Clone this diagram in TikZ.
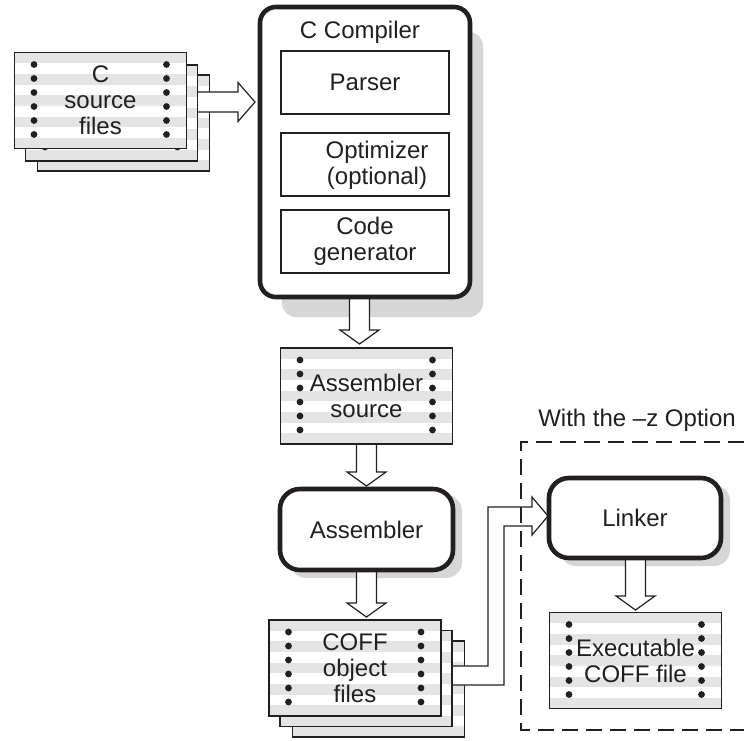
\documentclass[tikz,border=0pt]{standalone}
\usepackage{fontspec}
\setmainfont{Liberation Sans}
\usetikzlibrary{calc}
\definecolor{stripe}{HTML}{E4E4E5}
\definecolor{shadowgrey}{HTML}{D6D6D7}
\definecolor{ink}{HTML}{231F20}
\tikzset{
  roundbox/.style={draw=ink, line width=4.6pt, fill=white, inner sep=0pt},
  innerbox/.style={draw=ink, line width=1.8pt, fill=white, inner sep=0pt, minimum width=168pt, minimum height=63.5pt},
  lbl/.style={text=ink, font=\fontsize{24}{26}\selectfont, align=center, inner sep=0pt},
  hollow/.style={draw=ink, line width=1.2pt, fill=white, line join=miter},
  optbox/.style={draw=ink, line width=2.2pt, dash pattern=on 16pt off 8pt},
  shadowbox/.style={fill=shadowgrey},
  sheet/.style={draw=ink, line width=1.7pt, fill=white, inner sep=0pt,
    minimum width=172pt, minimum height=96pt,
    path picture={
      \foreach \i in {0,2,4,6,8}{
        \fill[stripe] ($(path picture bounding box.north west)!{\i/9}!(path picture bounding box.south west)$)
          rectangle ($(path picture bounding box.north east)!{(\i+1)/9}!(path picture bounding box.south east)$);
      }
      \foreach \k in {0,...,5}{
        \fill[ink] ($(path picture bounding box.north west)+(19.5pt,{-12pt-14pt*\k})$) circle[radius=3.4pt];
        \fill[ink] ($(path picture bounding box.north east)+(-20pt,{-12pt-14pt*\k})$) circle[radius=3.4pt];
      }
    }},
}
\newcommand\harrow[2]{\draw[hollow] let \p1=#1, \p2=#2 in
  (\x1,\y2+10pt) -- (\x2-17pt,\y2+10pt) -- (\x2-17pt,\y2+19.5pt) -- (\x2,\y2)
  -- (\x2-17pt,\y2-19.5pt) -- (\x2-17pt,\y2-10pt) -- (\x1,\y2-10pt);}
\newcommand\varrow[2]{\draw[hollow] let \p1=#1, \p2=#2 in
  (\x2-10pt,\y1) -- (\x2-10pt,\y2+14pt) -- (\x2-19.5pt,\y2+14pt) -- (\x2,\y2)
  -- (\x2+19.5pt,\y2+14pt) -- (\x2+10pt,\y2+14pt) -- (\x2+10pt,\y1);}
\newcommand\bentarrow[2]{\draw[hollow] let \p1=#1, \p2=#2 in
  (\x1,\y1+9.5pt) -- (\x2-60pt,\y1+9.5pt) -- (\x2-60pt,\y2+9pt) -- (\x2-16pt,\y2+9pt)
  -- (\x2-16pt,\y2+19pt) -- (\x2,\y2) -- (\x2-16pt,\y2-19pt) -- (\x2-16pt,\y2-10pt)
  -- (\x2-44pt,\y2-10pt) -- (\x2-44pt,\y1-9.5pt) -- (\x1,\y1-9.5pt);}
\begin{document}
\begin{tikzpicture}[x=1pt,y=-1pt]
\useasboundingbox (0,0) rectangle (744,740);
\fill[white] (0,0) rectangle (744,740);
% shadows of the rounded boxes
\fill[shadowbox, rounded corners=14pt] (282,32) rectangle (483,317);
\fill[shadowbox, rounded corners=16pt] (290,495) rectangle (462,578);
\fill[shadowbox, rounded corners=16pt] (560,485) rectangle (730,566);
% back sheets
\node[sheet] (src3) at (123.5,123) {};
\node[sheet] (coff3) at (378.5,689) {};
% connectors out of the stacks
\coordinate (srcout) at (190,102);
\coordinate (cctip) at (255,102);
\harrow{(srcout)}{(cctip)}
\coordinate (coffout) at (440,675.5);
\coordinate (lktip) at (548,516);
\bentarrow{(coffout)}{(lktip)}
% middle and front sheets
\node[sheet] (src2) at (111.5,113) {};
\node[sheet,lbl] (src) at (100.5,100.5) {C\\source\\files};
\node[sheet] (coff2) at (366,678.5) {};
\node[sheet,lbl] (coff) at (355,668) {COFF\\object\\files};
% vertical arrows
\coordinate (ccout) at (359.5,292);
\coordinate (asrctip) at (359.5,344);
\varrow{(ccout)}{(asrctip)}
\coordinate (asrcout) at (366.5,440);
\coordinate (asmtip) at (366.5,486);
\varrow{(asrcout)}{(asmtip)}
\coordinate (asmout) at (366.5,568);
\coordinate (cofftip) at (366.5,617);
\varrow{(asmout)}{(cofftip)}
\coordinate (lkout) at (635.5,556);
\coordinate (exetip) at (635.5,610);
\varrow{(lkout)}{(exetip)}
% C compiler
\node[roundbox, rounded corners=16pt, minimum width=210pt, minimum height=290pt] (cc) at (365,152) {};
\node[lbl] (cclabel) at (360,32) {C Compiler};
\node[innerbox,lbl] (parser) at (365,82.5) {Parser};
\node[innerbox] (opt) at (365,164.5) {};
\node[lbl] (opttext) at (377,165) {Optimizer\\(optional)};
\node[innerbox,lbl] (cg) at (365,241.5) {Code\\generator};
% assembler source
\node[sheet,lbl] (asrc) at (366.5,396) {Assembler\\source};
% assembler
\node[roundbox, lbl, rounded corners=20pt, minimum width=173pt, minimum height=81pt] (asm) at (366.5,529.5) {Assembler};
% linker
\node[roundbox, lbl, rounded corners=20pt, minimum width=172pt, minimum height=80pt] (lk) at (635,518) {Linker};
% executable
\node[sheet,lbl] (exe) at (635.5,660.5) {Executable\\COFF file};
% option frame
\draw[optbox] (744,442) -- (521,442) -- (521,730) -- (744,730);
\node[lbl] (optlabel) at (637,420) {With the –z Option};
\end{tikzpicture}
\end{document}
